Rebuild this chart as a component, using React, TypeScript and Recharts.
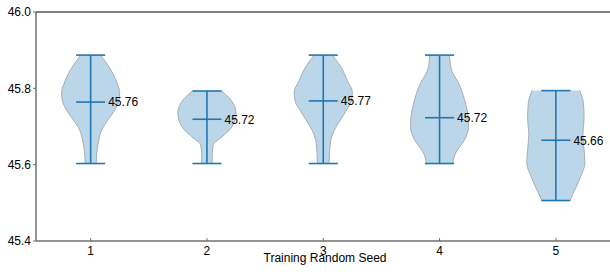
import { ComposedChart, Area, XAxis, YAxis, ReferenceLine, ReferenceDot } from 'recharts'

// Violin plot of final score per training seed. Each violin body is a ranged
// Area drawn in vertical layout (value axis = Y), widths read off as relative density.
const seeds = [1, 2, 3, 4, 5]
const mins = [45.603, 45.603, 45.603, 45.603, 45.506]
const maxs = [45.887, 45.793, 45.887, 45.887, 45.794]
const means = [45.764, 45.719, 45.767, 45.723, 45.664]
const meanLabels = ['45.76', '45.72', '45.77', '45.72', '45.66']
const yTicks = [45.4, 45.6, 45.8, 46.0]

// levels (score) and relative half-width of each violin at that level
const levels1 = [45.603, 45.638, 45.665, 45.691, 45.717, 45.743, 45.767, 45.79, 45.809, 45.835, 45.861, 45.887]
const density1 = [0.19, 0.22, 0.28, 0.38, 0.59, 0.83, 0.97, 1.0, 0.93, 0.79, 0.59, 0.34]
const levels2 = [45.603, 45.63, 45.652, 45.673, 45.699, 45.735, 45.769, 45.793]
const density2 = [0.18, 0.18, 0.22, 0.52, 0.86, 1.0, 0.83, 0.5]
const levels3 = [45.603, 45.638, 45.665, 45.69, 45.717, 45.743, 45.767, 45.79, 45.82, 45.857, 45.887]
const density3 = [0.2, 0.22, 0.26, 0.38, 0.59, 0.8, 0.97, 1.0, 0.83, 0.6, 0.31]
const levels4 = [45.603, 45.63, 45.665, 45.7, 45.72, 45.77, 45.813, 45.848, 45.887]
const density4 = [0.45, 0.55, 0.86, 1.0, 0.99, 0.86, 0.66, 0.41, 0.34]
const levels5 = [45.506, 45.54, 45.57, 45.605, 45.64, 45.68, 45.72, 45.76, 45.794]
const density5 = [0.48, 0.69, 0.86, 1.0, 0.97, 0.93, 0.97, 0.95, 0.82]

const levels = [levels1, levels2, levels3, levels4, levels5]
const densities = [density1, density2, density3, density4, density5]

const VIOLIN_HALF = 0.25
const CAP_HALF = 0.125
const BLUE = '#1f77b4'
const AXIS = '#707070'

const violins = seeds.map((s, i) =>
  levels[i].map((y, j) => ({ y, span: [s - densities[i][j] * VIOLIN_HALF, s + densities[i][j] * VIOLIN_HALF] }))
)

const seg = (s: number, y: number) => [{ x: s - CAP_HALF, y }, { x: s + CAP_HALF, y }]

// the plot runs a little past the right edge of the picture, so it is cropped
export default function App() {
  return (
    <div style={{ position: 'absolute', left: 0, top: 0, width: 610, height: 272, overflow: 'hidden', background: '#fff', fontFamily: '"Liberation Sans", Arial, sans-serif' }}>
      <ComposedChart width={614} height={272} layout="vertical" margin={{ top: 12, right: 0, bottom: 0, left: 0 }}>
        <XAxis
          type="number"
          domain={[0.53, 5.5]}
          ticks={seeds}
          allowDataOverflow
          height={31}
          axisLine={{ stroke: AXIS, strokeWidth: 1.5 }}
          tickLine={{ stroke: AXIS }}
          tickSize={-3}
          tickMargin={8}
          tick={{ fill: '#000', fontSize: 12 }}
          label={{ value: 'Training Random Seed', position: 'insideBottom', offset: 10, fill: '#000', fontSize: 12 }}
        />
        <YAxis
          type="number"
          dataKey="y"
          domain={[45.4, 46]}
          ticks={yTicks}
          allowDataOverflow
          reversed
          width={36}
          axisLine={{ stroke: AXIS, strokeWidth: 1.5 }}
          tickLine={{ stroke: AXIS }}
          tickSize={3}
          tickMargin={2}
          tick={{ fill: '#000', fontSize: 12 }}
          tickFormatter={(v: number) => v.toFixed(1)}
        />
        <ReferenceLine y={46} stroke="#000" strokeWidth={1} />
        {violins.map((v, i) => (
          <Area
            key={'v' + i}
            data={v}
            dataKey="span"
            type="monotone"
            fill={BLUE}
            fillOpacity={0.3}
            stroke="#a8adb3"
            strokeWidth={1}
            dot={false}
            activeDot={false}
            isAnimationActive={false}
          />
        ))}
        {seeds.map((s, i) => (
          <ReferenceLine key={'bar' + i} segment={[{ x: s, y: mins[i] }, { x: s, y: maxs[i] }]} stroke={BLUE} strokeWidth={1.6} />
        ))}
        {seeds.map((s, i) => (
          <ReferenceLine key={'min' + i} segment={seg(s, mins[i])} stroke={BLUE} strokeWidth={1.6} />
        ))}
        {seeds.map((s, i) => (
          <ReferenceLine key={'max' + i} segment={seg(s, maxs[i])} stroke={BLUE} strokeWidth={1.6} />
        ))}
        {seeds.map((s, i) => (
          <ReferenceLine key={'mean' + i} segment={seg(s, means[i])} stroke={BLUE} strokeWidth={1.6} />
        ))}
        {seeds.map((s, i) => (
          <ReferenceDot
            key={'lbl' + i}
            x={s + CAP_HALF}
            y={means[i]}
            r={0}
            fill="none"
            stroke="none"
            label={{ value: meanLabels[i], position: 'right', offset: 3, fill: '#000', fontSize: 12 }}
          />
        ))}
      </ComposedChart>
    </div>
  )
}
